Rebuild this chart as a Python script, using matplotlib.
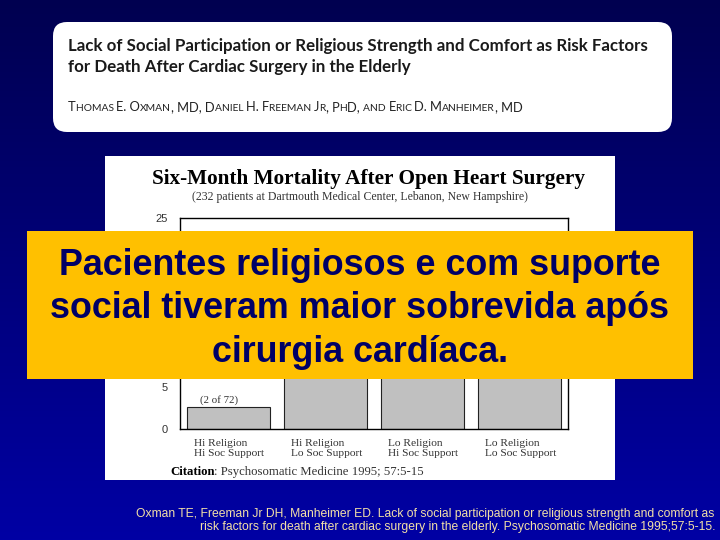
import matplotlib
matplotlib.use("Agg")
import matplotlib.pyplot as plt
import numpy as np
from matplotlib.patches import FancyBboxPatch, Rectangle

# data
groups = ["Hi Religion\nHi Soc Support", "Hi Religion\nLo Soc Support",
          "Lo Religion\nHi Soc Support", "Lo Religion\nLo Soc Support"]
mortality = [2.6, 10.0, 12.0, 21.0]
yticks = [0, 5, 10, 15, 20, 25]
bar_note = "(2 of 72)"

paper_title = ["Lack of Social Participation or Religious Strength and Comfort as Risk Factors",
               "for Death After Cardiac Surgery in the Elderly"]
paper_authors = "Thomas E. Oxman, MD, Daniel H. Freeman Jr, PhD, and Eric D. Manheimer, MD"
chart_title = "Six-Month Mortality After Open Heart Surgery"
chart_sub = "(232 patients at Dartmouth Medical Center, Lebanon, New Hampshire)"
message = "Pacientes religiosos e com suporte\nsocial tiveram maior sobrevida após\ncirurgia cardíaca."
reference = ["Oxman TE, Freeman Jr DH, Manheimer ED. Lack of social participation or religious strength and comfort as",
             "risk factors for death after cardiac surgery in the elderly. Psychosomatic Medicine 1995;57:5-15."]


def small_caps(ax, x, y, s, big=9.3, small=7.4, **kw):
    # split into runs of capitals / lower case, lower case drawn as small capitals
    runs = []
    for ch in s:
        size = small if ch.islower() else big
        if ch == " " and runs:
            size = runs[-1][1]
        if runs and runs[-1][1] == size:
            runs[-1][0] += ch.upper()
        else:
            runs.append([ch.upper(), size])
    prev = None
    for txt, size in runs:
        if prev is None:
            prev = ax.text(x, y, txt, fontsize=size, va="baseline", **kw)
        else:
            prev = ax.annotate(txt, xy=(1, 0), xycoords=prev, fontsize=size,
                               va="bottom", **kw)


fig = plt.figure(figsize=(7.2, 5.4), dpi=100)

# slide background, in pixel coords
bg = fig.add_axes([0, 0, 1, 1], zorder=0)
grad = np.linspace(0, 1, 256).reshape(-1, 1)
cmap = matplotlib.colors.LinearSegmentedColormap.from_list("slide", ["#000050", "#0000a4"])
bg.imshow(grad, cmap=cmap, extent=[0, 720, 540, 0], aspect="auto")
bg.set_xlim(0, 720)
bg.set_ylim(540, 0)
bg.axis("off")

# paper header card
bg.add_patch(FancyBboxPatch((53, 22), 619, 110, boxstyle="round,pad=0,rounding_size=14",
                            fc="white", ec="none"))
bg.text(68, 46, paper_title[0], family="Lato", weight="bold", fontsize=12.2, color="#1a1a1a", va="center")
bg.text(68, 67, paper_title[1], family="Lato", weight="bold", fontsize=12.2, color="#1a1a1a", va="center")
small_caps(bg, 68, 111, paper_authors, family="Lato", color="#222222")

# chart card
bg.add_patch(Rectangle((105, 156), 510, 324, fc="white", ec="none"))
bg.text(369, 179, chart_title, family="Liberation Serif", weight="bold", fontsize=15.3,
        ha="center", va="center", color="black")
bg.text(360, 197, chart_sub, family="Liberation Serif", fontsize=8.5,
        ha="center", va="center", color="#333333")
cit = bg.text(170, 472, "Citation", family="Liberation Serif", weight="bold", fontsize=9.2,
              va="center", color="black")
bg.annotate(": Psychosomatic Medicine 1995; 57:5-15", xy=(1, 0.5), xycoords=cit,
            va="center", family="Liberation Serif", fontsize=9.2, color="#333333")

# reference at bottom
bg.text(714, 514, reference[0], family="Liberation Sans", fontsize=8.7, ha="right",
        va="center", color="#f2dfa7")
bg.text(716, 527, reference[1], family="Liberation Sans", fontsize=8.7, ha="right",
        va="center", color="#f2dfa7")

# bar chart
ax = fig.add_axes([180 / 720, 1 - 429 / 540, 388 / 720, 211 / 540], zorder=1)
x = np.arange(len(groups))
ax.bar(x, mortality, width=0.86, color="#c0c0c0", edgecolor="#222222", linewidth=0.8)
ax.set_xlim(-0.5, 3.5)
ax.set_ylim(0, 25)
ax.set_yticks(yticks)
ax.set_yticklabels([str(v) for v in yticks], family="Liberation Sans", fontsize=8, color="#333333")
# labels that sit under the message box are not visible on the slide
for v, lab in zip(yticks, ax.get_yticklabels()):
    if 6 < v < 24:
        lab.set_visible(False)
ax.set_xticks(x - 0.36)
ax.set_xticklabels(groups, family="Liberation Serif", fontsize=8.2, color="#333333",
                   ha="left", linespacing=1.2)
ax.tick_params(length=0)
ax.tick_params(axis="y", pad=9)
ax.tick_params(axis="x", pad=7)
for s in ax.spines.values():
    s.set_linewidth(1.0)
ax.text(x[0] - 0.1, mortality[0] + 0.25, bar_note, family="Liberation Serif", fontsize=7.8,
        ha="center", va="bottom", color="#333333")

# highlighted message on top
top = fig.add_axes([0, 0, 1, 1], zorder=2)
top.set_xlim(0, 720)
top.set_ylim(540, 0)
top.axis("off")
top.patch.set_alpha(0)
top.add_patch(Rectangle((27, 231), 666, 148, fc="#ffc000", ec="none"))
top.text(360, 309, message, family="Liberation Sans", weight="bold", fontsize=25.8,
         ha="center", va="center", color="#000066", linespacing=1.32)

fig.savefig("out.png", dpi=100)
